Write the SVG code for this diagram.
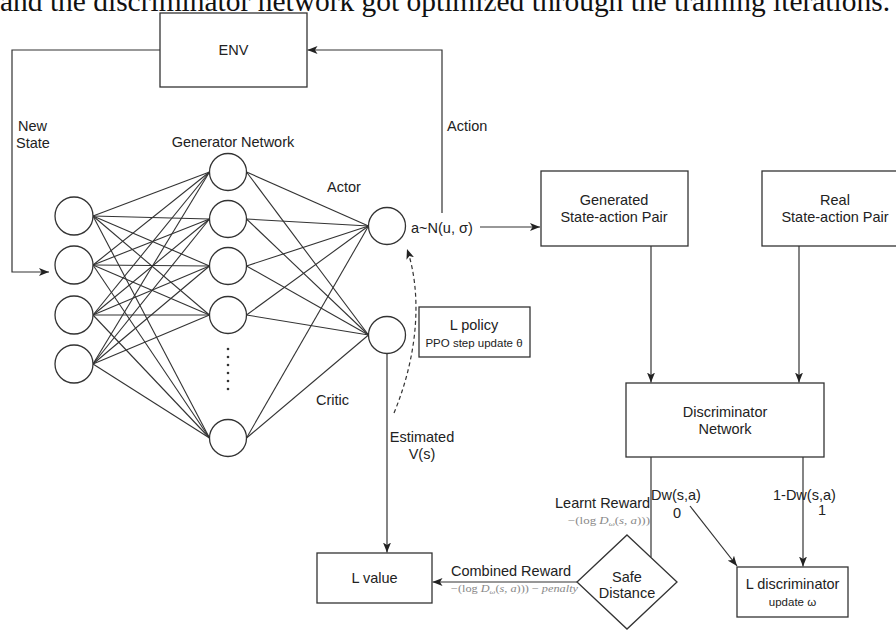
<svg xmlns="http://www.w3.org/2000/svg" width="896" height="631" viewBox="0 0 896 631">
  <defs>
    <marker id="arr" viewBox="0 0 10 8" refX="10" refY="4" markerWidth="10" markerHeight="8" markerUnits="userSpaceOnUse" orient="auto">
      <path d="M0,0 L10,4 L0,8 L2.5,4 z" fill="#222"/>
    </marker>
    <style>
      .box { fill: #fff; stroke: #333; stroke-width: 1.3; }
      .neuron { fill: #fff; stroke: #333; stroke-width: 1.3; }
      .edge { fill: none; stroke: #333; stroke-width: 1.2; }
      .syn { stroke: #333; stroke-width: 1.1; }
      .lbl { font-family: "Liberation Sans", Arial, sans-serif; font-size: 14.5px; fill: #222; }
      .mid { text-anchor: middle; }
      .small { font-family: "Liberation Sans", Arial, sans-serif; font-size: 11.5px; fill: #222; }
      .math { font-family: "Liberation Serif", "Times New Roman", serif; font-size: 10.5px; fill: #888; }
    </style>
  </defs>

  <rect width="896" height="631" fill="#fff"/>

  <!-- caption line above the figure -->
  <text x="0" y="10.5" font-family="Liberation Serif, Times New Roman, serif" font-size="29" fill="#111" textLength="890" lengthAdjust="spacingAndGlyphs">and the discriminator network got optimized through the training iterations.</text>

  <!-- synapses of the generator network -->
  <g id="synapses">
    <!-- input layer to hidden layer -->
    <line class="syn" x1="93" y1="216" x2="209.5" y2="172"/>
    <line class="syn" x1="93" y1="216" x2="209.5" y2="219"/>
    <line class="syn" x1="93" y1="216" x2="209.5" y2="266"/>
    <line class="syn" x1="93" y1="216" x2="209.5" y2="315"/>
    <line class="syn" x1="93" y1="216" x2="209.5" y2="438"/>
    <line class="syn" x1="93" y1="265" x2="209.5" y2="172"/>
    <line class="syn" x1="93" y1="265" x2="209.5" y2="219"/>
    <line class="syn" x1="93" y1="265" x2="209.5" y2="266"/>
    <line class="syn" x1="93" y1="265" x2="209.5" y2="315"/>
    <line class="syn" x1="93" y1="265" x2="209.5" y2="438"/>
    <line class="syn" x1="93" y1="315" x2="209.5" y2="172"/>
    <line class="syn" x1="93" y1="315" x2="209.5" y2="219"/>
    <line class="syn" x1="93" y1="315" x2="209.5" y2="266"/>
    <line class="syn" x1="93" y1="315" x2="209.5" y2="315"/>
    <line class="syn" x1="93" y1="315" x2="209.5" y2="438"/>
    <line class="syn" x1="93" y1="364" x2="209.5" y2="172"/>
    <line class="syn" x1="93" y1="364" x2="209.5" y2="219"/>
    <line class="syn" x1="93" y1="364" x2="209.5" y2="266"/>
    <line class="syn" x1="93" y1="364" x2="209.5" y2="315"/>
    <line class="syn" x1="93" y1="364" x2="209.5" y2="438"/>
    <!-- hidden layer to actor / critic -->
    <line class="syn" x1="246.5" y1="172" x2="368.5" y2="226"/>
    <line class="syn" x1="246.5" y1="219" x2="368.5" y2="226"/>
    <line class="syn" x1="246.5" y1="266" x2="368.5" y2="226"/>
    <line class="syn" x1="246.5" y1="315" x2="368.5" y2="226"/>
    <line class="syn" x1="246.5" y1="438" x2="368.5" y2="226"/>
    <line class="syn" x1="246.5" y1="172" x2="368.5" y2="335"/>
    <line class="syn" x1="246.5" y1="219" x2="368.5" y2="335"/>
    <line class="syn" x1="246.5" y1="266" x2="368.5" y2="335"/>
    <line class="syn" x1="246.5" y1="315" x2="368.5" y2="335"/>
    <line class="syn" x1="246.5" y1="438" x2="368.5" y2="335"/>
  </g>

  <!-- connectors -->
  <g id="connectors">
    <path class="edge" d="M442,213 V50 H307.5" marker-end="url(#arr)"/>
    <path class="edge" d="M160,50 H12 V272 H49" marker-end="url(#arr)"/>
    <path class="edge" d="M480,227 H540" marker-end="url(#arr)"/>
    <path class="edge" d="M651,246 V382.5" marker-end="url(#arr)"/>
    <path class="edge" d="M799,246 V382.5" marker-end="url(#arr)"/>
    <path class="edge" d="M387,354 V552.5" marker-end="url(#arr)"/>
    <path class="edge" d="M577,582 H432.5" marker-end="url(#arr)"/>
    <path class="edge" d="M651,457 V557"/>
    <path class="edge" d="M690,506 L737,566" marker-end="url(#arr)"/>
    <path class="edge" d="M803,457 V566.5" marker-end="url(#arr)"/>
    <path class="edge" d="M394,413 C420,350 421,290 407,249" stroke-dasharray="4,3" marker-end="url(#arr)"/>
  </g>

  <g id="env">
    <rect class="box" x="160" y="13" width="147" height="74"/>
    <text class="lbl mid" x="233.5" y="55">ENV</text>
  </g>

  <g id="labels">
    <text class="lbl" x="18" y="131">New</text>
    <text class="lbl" x="16" y="148">State</text>
    <text class="lbl mid" x="233" y="147">Generator Network</text>
    <text class="lbl" x="447" y="131">Action</text>
    <text class="lbl" x="327" y="192">Actor</text>
    <text class="lbl" x="316" y="405">Critic</text>
    <text class="lbl" x="411" y="233">a~N(u, σ)</text>
    <text class="lbl mid" x="422" y="442">Estimated</text>
    <text class="lbl mid" x="422" y="459">V(s)</text>
    <text class="lbl" x="555" y="508">Learnt Reward</text>
    <text class="math" x="568" y="524" textLength="82" lengthAdjust="spacingAndGlyphs">−(log <tspan font-style="italic">D</tspan><tspan font-size="7" dy="2" font-style="italic">ω</tspan><tspan dy="-2">(</tspan><tspan font-style="italic">s, a</tspan>)))</text>
    <text class="lbl" x="451" y="576">Combined Reward</text>
    <text class="math" x="451" y="592" textLength="127" lengthAdjust="spacingAndGlyphs">−(log <tspan font-style="italic">D</tspan><tspan font-size="7" dy="2" font-style="italic">ω</tspan><tspan dy="-2">(</tspan><tspan font-style="italic">s, a</tspan>))) − <tspan font-style="italic">penalty</tspan></text>
    <text class="lbl" x="651" y="500">Dw(s,a)</text>
    <text class="lbl" x="673" y="518">0</text>
    <text class="lbl" x="773" y="500">1-Dw(s,a)</text>
    <text class="lbl" x="818" y="515">1</text>
  </g>

  <!-- input layer -->
  <g id="input-layer">
    <circle class="neuron" cx="74" cy="216" r="19"/>
    <circle class="neuron" cx="74" cy="265" r="19"/>
    <circle class="neuron" cx="74" cy="315" r="19"/>
    <circle class="neuron" cx="74" cy="364" r="19"/>
  </g>

  <!-- hidden layer -->
  <g id="hidden-layer">
    <circle class="neuron" cx="228" cy="172" r="18.5"/>
    <circle class="neuron" cx="228" cy="219" r="18.5"/>
    <circle class="neuron" cx="228" cy="266" r="18.5"/>
    <circle class="neuron" cx="228" cy="315" r="18.5"/>
    <circle class="neuron" cx="228" cy="438" r="18.5"/>
    <g fill="#333">
      <circle cx="228" cy="349" r="1.3"/>
      <circle cx="228" cy="357" r="1.3"/>
      <circle cx="228" cy="365" r="1.3"/>
      <circle cx="228" cy="373" r="1.3"/>
      <circle cx="228" cy="381" r="1.3"/>
      <circle cx="228" cy="389" r="1.3"/>
    </g>
  </g>

  <g id="actor">
    <circle class="neuron" cx="387" cy="226" r="18.5"/>
  </g>
  <g id="critic">
    <circle class="neuron" cx="387" cy="335" r="18.5"/>
  </g>

  <g id="l-policy">
    <rect class="box" x="419" y="307" width="111" height="50"/>
    <text class="lbl mid" x="474" y="330">L policy</text>
    <text class="small mid" x="474" y="347">PPO step update θ</text>
  </g>

  <g id="generated-pair">
    <rect class="box" x="541" y="171" width="147" height="75"/>
    <text class="lbl mid" x="614" y="205">Generated</text>
    <text class="lbl mid" x="614" y="222">State-action Pair</text>
  </g>

  <g id="real-pair">
    <rect class="box" x="762" y="171" width="147" height="75"/>
    <text class="lbl mid" x="835" y="205">Real</text>
    <text class="lbl mid" x="835" y="222">State-action Pair</text>
  </g>

  <g id="discriminator">
    <rect class="box" x="626" y="383" width="198" height="74"/>
    <text class="lbl mid" x="725" y="417">Discriminator</text>
    <text class="lbl mid" x="725" y="434">Network</text>
  </g>

  <g id="safe-distance">
    <polygon class="box" points="627,535 677,582 627,629 577,582"/>
    <text class="lbl mid" x="627" y="582">Safe</text>
    <text class="lbl mid" x="627" y="598">Distance</text>
  </g>

  <g id="l-value">
    <rect class="box" x="317" y="553" width="115" height="50"/>
    <text class="lbl mid" x="374.5" y="583">L value</text>
  </g>

  <g id="l-discriminator">
    <rect class="box" x="737" y="567" width="111" height="50"/>
    <text class="lbl mid" x="792.5" y="589">L discriminator</text>
    <text class="small mid" x="792.5" y="606">update ω</text>
  </g>
</svg>
